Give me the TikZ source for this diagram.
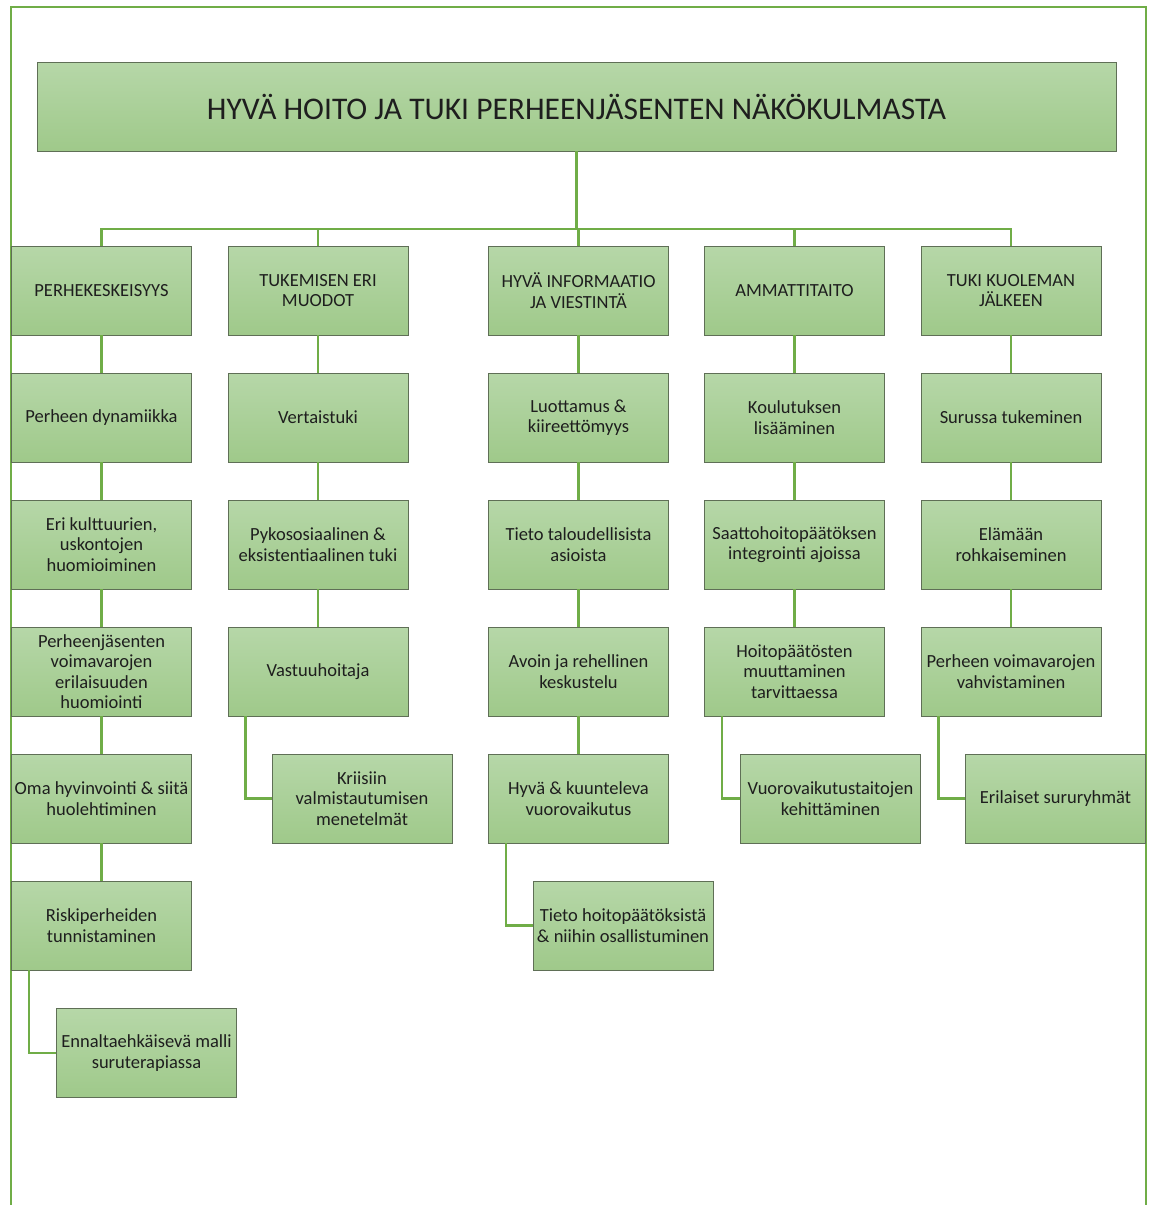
\documentclass[tikz,border=0pt]{standalone}
\usepackage{fontspec}
\setmainfont{Carlito}
\definecolor{lgreen}{HTML}{70AD47}
\definecolor{btop}{HTML}{B6D7A8}
\definecolor{bbot}{HTML}{9FC98A}
\definecolor{bline}{HTML}{5F6F56}
\definecolor{txt}{HTML}{1E1E1E}
\begin{document}
\begin{tikzpicture}[x=1pt,y=-1pt,
  box/.style={draw=bline, line width=0.9pt, top color=btop, bottom color=bbot,
    minimum width=180pt, minimum height=89pt, inner sep=0pt, align=center,
    text=txt, font=\fontsize{18.5}{20.5}\selectfont},
  titlebox/.style={box, minimum width=1079pt, font=\fontsize{31.5}{36}\selectfont},
  conn/.style={draw=lgreen, line width=2.4pt},
  frame/.style={draw=lgreen, line width=2pt}]
\useasboundingbox (0,0) rectangle (1149,1205);
\draw[frame] (11,1206) -- (11,7) -- (1146,7) -- (1146,1206);

\node[titlebox] (t) at (576.5,106.5) {HYVÄ HOITO JA TUKI PERHEENJÄSENTEN NÄKÖKULMASTA};

% column 1
\node[box] (a1) at (101.5,290.5) {PERHEKESKEISYYS};
\node[box] (a2) at (101.5,417.5) {Perheen dynamiikka};
\node[box] (a3) at (101.5,544.5) {Eri kulttuurien,\\uskontojen\\huomioiminen};
\node[box] (a4) at (101.5,671.5) {Perheenjäsenten\\voimavarojen\\erilaisuuden\\huomiointi};
\node[box] (a5) at (101.5,798.5) {Oma hyvinvointi \& siitä\\huolehtiminen};
\node[box] (a6) at (101.5,925.5) {Riskiperheiden\\tunnistaminen};
\node[box] (a7) at (146.5,1053) {Ennaltaehkäisevä malli\\suruterapiassa};
% column 2
\node[box] (b1) at (318,290.5) {TUKEMISEN ERI\\MUODOT};
\node[box] (b2) at (318,417.5) {Vertaistuki};
\node[box] (b3) at (318,544.5) {Pykososiaalinen \&\\eksistentiaalinen tuki};
\node[box] (b4) at (318,671.5) {Vastuuhoitaja};
\node[box] (b5) at (362,798.5) {Kriisiin\\valmistautumisen\\menetelmät};
% column 3
\node[box] (c1) at (578.5,290.5) {HYVÄ INFORMAATIO\\JA VIESTINTÄ};
\node[box] (c2) at (578.5,417.5) {Luottamus \&\\kiireettömyys};
\node[box] (c3) at (578.5,544.5) {Tieto taloudellisista\\asioista};
\node[box] (c4) at (578.5,671.5) {Avoin ja rehellinen\\keskustelu};
\node[box] (c5) at (578.5,798.5) {Hyvä \& kuunteleva\\vuorovaikutus};
\node[box] (c6) at (623,925.5) {Tieto hoitopäätöksistä\\\& niihin osallistuminen};
% column 4
\node[box] (d1) at (794.5,290.5) {AMMATTITAITO};
\node[box] (d2) at (794.5,417.5) {Koulutuksen\\lisääminen};
\node[box] (d3) at (794.5,544.5) {Saattohoitopäätöksen\\integrointi ajoissa};
\node[box] (d4) at (794.5,671.5) {Hoitopäätösten\\muuttaminen\\tarvittaessa};
\node[box] (d5) at (830.5,798.5) {Vuorovaikutustaitojen\\kehittäminen};
% column 5
\node[box] (e1) at (1011,290.5) {TUKI KUOLEMAN\\JÄLKEEN};
\node[box] (e2) at (1011,417.5) {Surussa tukeminen};
\node[box] (e3) at (1011,544.5) {Elämään\\rohkaiseminen};
\node[box] (e4) at (1011,671.5) {Perheen voimavarojen\\vahvistaminen};
\node[box] (e5) at (1055.5,798.5) {Erilaiset sururyhmät};

% connectors
\coordinate (bus) at (576.5,229);
\foreach \n in {a1,b1,c1,d1,e1} {
  \draw[conn] (t.south) -- (bus) -| (\n.north);
}
\foreach \p/\q in {a1/a2,a2/a3,a3/a4,a4/a5,a5/a6,
                   b1/b2,b2/b3,b3/b4,
                   c1/c2,c2/c3,c3/c4,c4/c5,
                   d1/d2,d2/d3,d3/d4,
                   e1/e2,e2/e3,e3/e4} {
  \draw[conn] (\p.south) -- (\q.north);
}
\foreach \p/\q in {a6/a7,b4/b5,c5/c6,d4/d5,e4/e5} {
  \draw[conn] ([xshift=18pt]\p.south west) |- (\q.west);
}
% redraw child boxes over connector ends
\end{tikzpicture}
\end{document}
